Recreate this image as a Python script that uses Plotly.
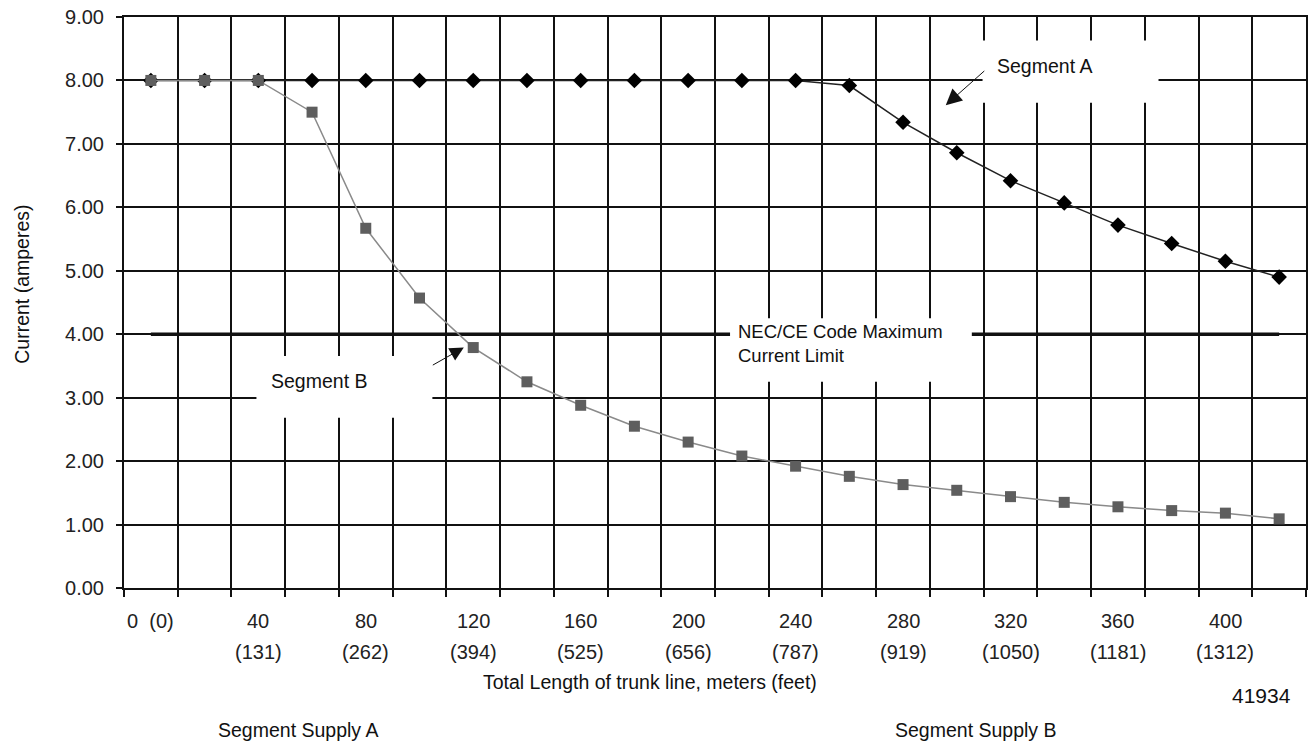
import plotly.graph_objects as go

# ---------------- data ----------------
length_m = [0, 20, 40, 60, 80, 100, 120, 140, 160, 180, 200, 220,
            240, 260, 280, 300, 320, 340, 360, 380, 400, 420]
segment_a = [8.00, 8.00, 8.00, 8.00, 8.00, 8.00, 8.00, 8.00, 8.00, 8.00, 8.00, 8.00,
             8.00, 7.92, 7.34, 6.86, 6.42, 6.07, 5.72, 5.43, 5.15, 4.90]
segment_b = [8.00, 8.00, 8.00, 7.50, 5.67, 4.57, 3.79, 3.25, 2.88, 2.55, 2.30, 2.08,
             1.92, 1.76, 1.63, 1.54, 1.44, 1.35, 1.28, 1.22, 1.18, 1.09]
limit_current = 4.00
label_meters = [0, 40, 80, 120, 160, 200, 240, 280, 320, 360, 400]
label_feet = [0, 131, 262, 394, 525, 656, 787, 919, 1050, 1181, 1312]
y_ticks = [0, 1, 2, 3, 4, 5, 6, 7, 8, 9]

TXT = "Liberation Sans, Arial, sans-serif"
TICKF = "Liberation Sans, Arial, sans-serif"

half = (length_m[1] - length_m[0]) / 2
edges = [v - half for v in length_m] + [length_m[-1] + half]

fig = go.Figure()

fig.add_trace(go.Scatter(
    x=[length_m[0], length_m[-1]], y=[limit_current, limit_current],
    mode="lines", line=dict(color="#111111", width=3.5), hoverinfo="skip",
    showlegend=False))

fig.add_trace(go.Scatter(
    x=length_m, y=segment_a, mode="lines+markers", name="Segment A",
    line=dict(color="#222222", width=1.5),
    marker=dict(symbol="diamond", size=12, color="#000000"),
    showlegend=False))

fig.add_trace(go.Scatter(
    x=length_m, y=segment_b, mode="lines+markers", name="Segment B",
    line=dict(color="#8a8a8a", width=1.5),
    marker=dict(symbol="square", size=11, color="#5e5e5e"),
    showlegend=False))

# white label boxes covering grid
boxes = [
    (309.6, 375.1, 7.65, 8.63),     # Segment A
    (39.3, 104.8, 2.685, 3.657),    # Segment B
    (215.6, 305.6, 3.249, 4.252),   # NEC
]
shapes = [dict(type="rect", xref="x", yref="y", x0=a, x1=b, y0=c, y1=d,
               fillcolor="white", line=dict(width=0), layer="above")
          for a, b, c, d in boxes]

ann = []
ann.append(dict(x=314.1, y=8.23, xref="x", yref="y", text="Segment A",
                showarrow=False, xanchor="left", yanchor="middle",
                font=dict(family=TXT, size=19.5, color="#111")))
ann.append(dict(x=43.9, y=3.265, xref="x", yref="y", text="Segment B",
                showarrow=False, xanchor="left", yanchor="middle",
                font=dict(family=TXT, size=19.5, color="#111")))
ann.append(dict(x=217.8, y=3.853, xref="x", yref="y",
                text="NEC/CE Code Maximum<br>Current Limit",
                showarrow=False, xanchor="left", yanchor="middle", align="left",
                font=dict(family=TXT, size=18.5, color="#111")))
# arrows
ann.append(dict(x=295.9, y=7.61, ax=310.8, ay=8.17, xref="x", yref="y",
                axref="x", ayref="y", text="", showarrow=True, arrowhead=2,
                arrowsize=3.2, arrowwidth=1, arrowcolor="#111"))
ann.append(dict(x=116.5, y=3.79, ax=104.4, ay=3.50, xref="x", yref="y",
                axref="x", ayref="y", text="", showarrow=True, arrowhead=2,
                arrowsize=2.8, arrowwidth=1, arrowcolor="#111"))

# x labels (meters / feet)
for m, f in zip(label_meters, label_feet):
    if m == 0:
        ann.append(dict(x=m, y=0, xref="x", yref="paper", text=f"{m}  ({f})",
                        showarrow=False, xanchor="center", yanchor="middle",
                        yshift=-33, font=dict(family=TICKF, size=20, color="#222")))
    else:
        ann.append(dict(x=m, y=0, xref="x", yref="paper", text=f"{m}",
                        showarrow=False, xanchor="center", yanchor="middle",
                        yshift=-33, font=dict(family=TICKF, size=20, color="#222")))
        ann.append(dict(x=m, y=0, xref="x", yref="paper", text=f"({f})",
                        showarrow=False, xanchor="center", yanchor="middle",
                        yshift=-64, font=dict(family=TICKF, size=20, color="#222")))

ann.append(dict(x=651, y=0, xref="paper", yref="paper", text="Total Length of trunk line, meters (feet)",
                showarrow=False, xanchor="center", yanchor="middle", yshift=-94,
                font=dict(family=TXT, size=19.5, color="#111")))
ann.append(dict(x=1263, y=0, xref="paper", yref="paper", text="41934",
                showarrow=False, xanchor="center", yanchor="middle", yshift=-107,
                font=dict(family=TXT, size=21, color="#111")))
ann.append(dict(x=298, y=0, xref="paper", yref="paper", text="Segment Supply A",
                showarrow=False, xanchor="center", yanchor="middle", yshift=-142,
                font=dict(family=TXT, size=19.5, color="#111")))
ann.append(dict(x=977, y=0, xref="paper", yref="paper", text="Segment Supply B",
                showarrow=False, xanchor="center", yanchor="middle", yshift=-142,
                font=dict(family=TXT, size=19.5, color="#111")))
ann.append(dict(x=21, y=283, xref="paper", yref="paper", text="Current (amperes)",
                showarrow=False, textangle=-90, xanchor="center", yanchor="middle",
                font=dict(family=TXT, size=19.5, color="#111")))

L, R, T, B = 124, 6, 14, 157
W, H = 1314, 745
pw, ph = W - L - R, H - T - B
# convert pixel-positioned paper annotations
for a in ann:
    if a.get("xref") == "paper":
        a["x"] = (a["x"] - L) / pw
    if a.get("yref") == "paper" and a["y"] != 0:
        a["y"] = (H - B - a["y"]) / ph

fig.update_layout(
    width=W, height=H, autosize=False,
    margin=dict(l=L, r=R, t=T, b=B),
    paper_bgcolor="white", plot_bgcolor="white",
    shapes=shapes, annotations=ann,
    xaxis=dict(range=[edges[0], edges[-1]], tickvals=edges, ticktext=[""] * len(edges),
               showgrid=True, gridcolor="#111", gridwidth=2,
               ticks="outside", ticklen=7, tickwidth=2, tickcolor="#111",
               showline=True, linecolor="#111", linewidth=2, mirror=True,
               zeroline=False, fixedrange=True),
    yaxis=dict(range=[0, 9], tickvals=y_ticks, tickformat=".2f",
               showgrid=True, gridcolor="#111", gridwidth=2,
               ticks="outside", ticklen=6, tickwidth=2, tickcolor="#111",
               ticklabelstandoff=8,
               tickfont=dict(family=TICKF, size=20, color="#222"),
               showline=True, linecolor="#111", linewidth=2, mirror=True,
               zeroline=False, fixedrange=True),
)

fig.write_html("out.html", config={"displayModeBar": False},
               post_script="document.body.style.margin='0';document.body.style.overflow='hidden';")
